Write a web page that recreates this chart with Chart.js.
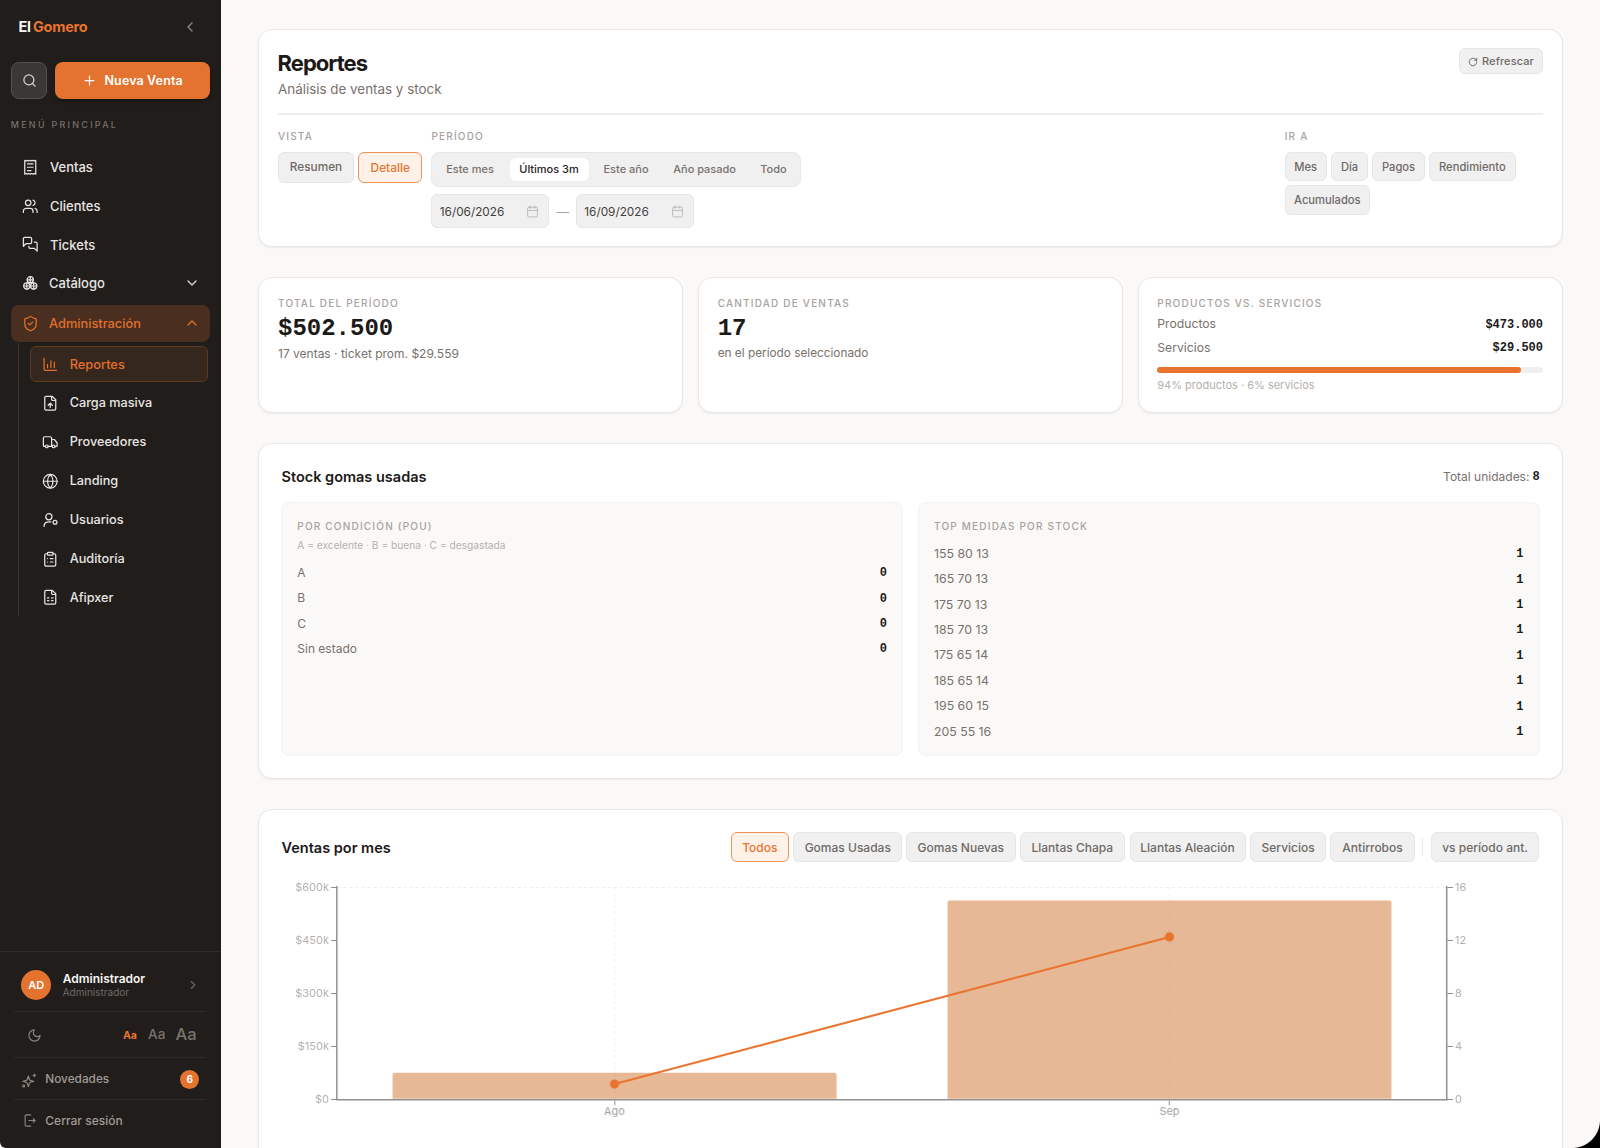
<!DOCTYPE html>
<html lang="es">
<head>
<meta charset="utf-8">
<title>Reportes</title>
<script src="https://cdn.jsdelivr.net/npm/chart.js@4"></script>
<style>
html,body{margin:0;padding:0;width:1600px;height:1148px;overflow:hidden;background:#fff;font-family:Inter,"Noto Sans",sans-serif}
#root{position:absolute;left:0;top:0;width:1600px;height:1148px;overflow:hidden;background:#faf9f7}
.t{position:absolute;white-space:nowrap;line-height:1}
.b{position:absolute;box-sizing:border-box}
.i{position:absolute;fill:none;stroke-linecap:round;stroke-linejoin:round}
#wrap{position:absolute;left:281px;top:876px;width:1258.5px;height:250px}
</style>
</head>
<body>
<div id="root"></div>
<div id="wrap"><canvas id="c"></canvas></div>
<script>
// chart data
const months = ['Ago', 'Sep'];
const salesAmount = [75000, 562500];
const salesCount = [1.15, 12.25];
const amountTicks = { min: 0, max: 600000, step: 150000 };
const countTicks = { min: 0, max: 16, step: 4 };

// page text lists
const conditions = ['A', 'B', 'C', 'Sin estado'];
const conditionValues = [0, 0, 0, 0];
const sizes = ['155 80 13', '165 70 13', '175 70 13', '185 70 13', '175 65 14', '185 65 14', '195 60 15', '205 55 16'];
const sizeValues = [1, 1, 1, 1, 1, 1, 1, 1];

const ORANGE = '#e8742f';
const root = document.getElementById('root');
const MONO = '"Liberation Mono",monospace';

function t(text, x, y, s = {}, align) {
  const e = document.createElement('div');
  e.className = 't';
  e.textContent = text;
  e.style.left = x + 'px';
  e.style.top = y + 'px';
  e.style.transform = align === 'r' ? 'translate(-100%,-50%)' : align === 'c' ? 'translate(-50%,-50%)' : 'translateY(-50%)';
  Object.assign(e.style, s);
  root.appendChild(e);
  return e;
}
function b(x1, y1, x2, y2, s = {}) {
  const e = document.createElement('div');
  e.className = 'b';
  e.style.left = x1 + 'px';
  e.style.top = y1 + 'px';
  e.style.width = (x2 - x1) + 'px';
  e.style.height = (y2 - y1) + 'px';
  Object.assign(e.style, s);
  root.appendChild(e);
  return e;
}
function icon(inner, cx, cy, size, color, w = 2) {
  const n = document.createElementNS('http://www.w3.org/2000/svg', 'svg');
  n.setAttribute('viewBox', '0 0 24 24');
  n.setAttribute('class', 'i');
  n.setAttribute('width', size);
  n.setAttribute('height', size);
  n.setAttribute('stroke', color);
  n.setAttribute('stroke-width', w);
  n.style.left = (cx - size / 2) + 'px';
  n.style.top = (cy - size / 2) + 'px';
  n.innerHTML = inner;
  root.appendChild(n);
}
const P = d => `<path d="${d}"/>`;
const C = (x, y, r) => `<circle cx="${x}" cy="${y}" r="${r}"/>`;
const FILE = 'M15 2H6a2 2 0 0 0-2 2v16a2 2 0 0 0 2 2h12a2 2 0 0 0 2-2V7Z M14 2v4a2 2 0 0 0 2 2h4';
const IC = {
  search: C(11, 11, 8) + P('m21 21-4.3-4.3'),
  left: P('m15 18-6-6 6-6'), down: P('m6 9 6 6 6-6'), up: P('m18 15-6-6-6 6'), right: P('m9 18 6-6-6-6'),
  plus: P('M5 12h14M12 5v14'),
  receipt: P('M4 2v20l2-1 2 1 2-1 2 1 2-1 2 1 2-1 2 1V2l-2 1-2-1-2 1-2-1-2 1-2-1-2 1Z M8 7h8 M8 12h8 M8 17h5'),
  users: P('M16 21v-2a4 4 0 0 0-4-4H6a4 4 0 0 0-4 4v2') + C(9, 7, 4) + P('M22 21v-2a4 4 0 0 0-3-3.87 M16 3.13a4 4 0 0 1 0 7.75'),
  msg: P('M14 9a2 2 0 0 1-2 2H6l-4 4V4a2 2 0 0 1 2-2h8a2 2 0 0 1 2 2z M18 9h2a2 2 0 0 1 2 2v11l-4-4h-6a2 2 0 0 1-2-2v-1'),
  cat: C(12, 7, 4.5) + C(7, 16, 4.5) + C(17, 16, 4.5) + P('M12 2.5v9 M7.5 7h9 M2.5 16h9 M7 11.5v9 M12.5 16h9 M17 11.5v9'),
  shield: P('M20 13c0 5-3.5 7.5-7.66 8.95a1 1 0 0 1-.67-.01C7.5 20.5 4 18 4 13V6a1 1 0 0 1 1-1c2 0 4.5-1.2 6.24-2.72a1.17 1.17 0 0 1 1.52 0C14.51 3.81 17 5 19 5a1 1 0 0 1 1 1z M9 12l2 2 4-4'),
  chart: P('M3 3v16a2 2 0 0 0 2 2h16 M8 17v-5 M13 17V7 M18 17v-8'),
  fileUp: P(FILE + ' M12 18v-6 M9 15l3-3 3 3'),
  truck: P('M14 18V6a2 2 0 0 0-2-2H4a2 2 0 0 0-2 2v11a1 1 0 0 0 1 1h2 M15 18H9 M19 18h2a1 1 0 0 0 1-1v-3.65a1 1 0 0 0-.22-.624l-3.48-4.35A1 1 0 0 0 17.52 8H14') + C(17, 18, 2) + C(7, 18, 2),
  globe: C(12, 12, 10) + P('M12 2a14.5 14.5 0 0 0 0 20 14.5 14.5 0 0 0 0-20 M2 12h20'),
  ucog: C(10, 7, 4.5) + P('M3 21c0-4 3-6.5 7-6.5 h3') + C(19, 15, 2.8),
  clip: '<rect x="8" y="2" width="8" height="4" rx="1"/>' + P('M16 4h2a2 2 0 0 1 2 2v14a2 2 0 0 1-2 2H6a2 2 0 0 1-2-2V6a2 2 0 0 1 2-2h2 M12 11h4 M12 16h4 M8 11h.01 M8 16h.01'),
  sheet: P(FILE + ' M8 13h2 M14 13h2 M8 17h2 M14 17h2'),
  moon: P('M12 3a6 6 0 0 0 9 9 9 9 0 1 1-9-9Z'),
  spark: P('M11 6l1.7 5.3a2 2 0 0 0 1.3 1.3L19 14l-5 1.4a2 2 0 0 0-1.3 1.3L11 22l-1.7-5.3A2 2 0 0 0 8 15.4L3 14l5-1.4a2 2 0 0 0 1.3-1.3Z M20 3v4 M18 5h4') + C(4, 21, 1.5),
  logout: P('M14 3H7a2 2 0 0 0-2 2v14a2 2 0 0 0 2 2h7 M11 12h10 M18 9l3 3-3 3'),
  rotate: P('M21 12a9 9 0 1 1-3-6.7L21 8 M21 3v5h-5'),
  cal: '<rect x="3" y="4" width="18" height="18" rx="2"/>' + P('M16 2v4M8 2v4M3 10h18')
};

/* ---------- sidebar ---------- */
b(0, 0, 221, 1148, { background: '#fff' });
b(0, 0, 221, 1148, { background: '#211d1a', borderBottomLeftRadius: '6px' });
t('El', 18.5, 27.4, { fontSize: '14.5px', fontWeight: 700, color: '#f5f5f4', letterSpacing: '-.02em' });
t('Gomero', 33, 27.4, { fontSize: '14.5px', fontWeight: 700, color: ORANGE, letterSpacing: '-.02em' });
icon(IC.left, 190, 27, 16, '#8a8580');
b(10.7, 62, 47.3, 98.7, { background: '#3a3735', border: '1px solid #55514e', borderRadius: '8px' });
icon(IC.search, 29, 80.3, 15, '#d6d3d1');
b(55, 62, 210, 98.7, { background: '#e47330', borderRadius: '8px', boxShadow: '0 2px 5px rgba(0,0,0,.35)' });
icon(IC.plus, 89.3, 80.7, 15, '#fff');
t('Nueva Venta', 104.5, 81, { fontSize: '12.5px', fontWeight: 600, color: '#fff', letterSpacing: '.01em' });
t('MENÚ PRINCIPAL', 10.7, 123.7, { fontSize: '9px', fontWeight: 500, color: '#75706b', letterSpacing: '.25em' });

const NAV = '#e7e5e4';
const navStyle = { fontSize: '13px', fontWeight: 500, color: NAV };
[['Ventas', 166.9, 'receipt', 50], ['Clientes', 205.8, 'users', 50], ['Tickets', 244.6, 'msg', 50], ['Catálogo', 283.4, 'cat', 49]]
  .forEach(([n, y, ic, x]) => { t(n, x, y, navStyle); icon(IC[ic], 30.5, y, 16.5, NAV, 1.8); });
icon(IC.down, 191.5, 283, 16, '#d6d3d1');
b(10.7, 305, 210, 342, { background: '#4a2f20', borderRadius: '8px' });
t('Administración', 49, 324, { fontSize: '12.8px', fontWeight: 500, color: '#e0702c' });
icon(IC.shield, 30, 323.5, 17, '#e0702c', 1.8);
icon(IC.up, 191.5, 323, 16, '#e0702c');
b(18, 343, 19, 617, { background: '#3a3532' });
b(30, 346, 208, 382, { background: '#36271e', border: '1px solid #5f3a22', borderRadius: '6px' });
t('Reportes', 69.7, 364.6, { fontSize: '12.8px', fontWeight: 500, color: '#e0702c' });
icon(IC.chart, 50, 364, 16.5, '#e0702c', 1.8);
[['Carga masiva', 403.3, 'fileUp'], ['Proveedores', 442.3, 'truck'], ['Landing', 481.3, 'globe'], ['Usuarios', 520, 'ucog'], ['Auditoría', 558.8, 'clip'], ['Afipxer', 597.6, 'sheet']]
  .forEach(([n, y, ic]) => { t(n, 69.7, y, { fontSize: '12.7px', fontWeight: 500, color: NAV }); icon(IC[ic], 50, y, 16.5, NAV, 1.8); });

b(0, 950.5, 221, 951.5, { background: '#2e2a27' });
b(21.3, 970, 51.3, 1000, { background: '#e47330', borderRadius: '50%' });
t('AD', 36.3, 985, { fontSize: '11px', fontWeight: 600, color: '#fff' }, 'c');
t('Administrador', 62.7, 979, { fontSize: '12px', fontWeight: 600, color: '#f5f5f4' });
t('Administrador', 62.7, 992, { fontSize: '10px', color: '#6f6a66' });
icon(IC.right, 192.5, 985, 14, '#6f6a66');
b(14, 1010.5, 206, 1011.5, { background: '#2e2a27' });
icon(IC.moon, 34.7, 1035, 15, '#8a8580', 1.8);
t('Aa', 130, 1035.7, { fontSize: '10.5px', fontWeight: 700, color: ORANGE }, 'c');
t('Aa', 156.7, 1034.7, { fontSize: '13.5px', fontWeight: 500, color: '#78736e' }, 'c');
t('Aa', 186, 1033.7, { fontSize: '16.5px', fontWeight: 500, color: '#78736e' }, 'c');
b(14, 1057, 206, 1058, { background: '#2e2a27' });
icon(IC.spark, 29, 1079.5, 16, '#8a8580', 1.8);
t('Novedades', 45.3, 1080.2, { fontSize: '11.8px', fontWeight: 500, color: '#a09b96' });
b(180.2, 1069.5, 199.2, 1088.5, { background: '#e47330', borderRadius: '50%' });
t('6', 189.7, 1079, { fontSize: '10px', fontWeight: 700, color: '#fff' }, 'c');
b(14, 1099, 206, 1100, { background: '#2e2a27' });
icon(IC.logout, 29, 1120.5, 15, '#8a8580', 1.8);
t('Cerrar sesión', 45.3, 1120.7, { fontSize: '12px', fontWeight: 500, color: '#a09b96' });

/* ---------- shared styles ---------- */
const card = { background: '#fff', border: '1px solid #e9e8e5', borderRadius: '14px', boxShadow: '0 1px 2px rgba(0,0,0,.06)' };
const eyebrow = { fontSize: '10px', fontWeight: 500, color: '#a8a29e', letterSpacing: '.12em' };
const mutedBtn = { background: '#f0f0f1', border: '1px solid #e6e6e7', borderRadius: '6px' };
const onBtn = { background: '#fdf1e8', border: '1.5px solid #f0935b', borderRadius: '6px' };
function btn(label, x1, y1, x2, y2, size, active) {
  b(x1, y1, x2, y2, active ? onBtn : mutedBtn);
  t(label, (x1 + x2) / 2, (y1 + y2) / 2 + 1, { fontSize: size + 'px', fontWeight: 500, color: active ? ORANGE : '#6f6a66' }, 'c');
}

/* ---------- header card ---------- */
b(258, 29.3, 1563, 247, card);
t('Reportes', 277.6, 63.3, { fontSize: '22px', fontWeight: 700, color: '#1c1917', letterSpacing: '-.045em' });
t('Análisis de ventas y stock', 278, 90.3, { fontSize: '13.4px', color: '#78716c' });
b(1459, 48.3, 1543, 73.7, mutedBtn);
icon(IC.rotate, 1473, 61.5, 10, '#6f6a66', 2.4);
t('Refrescar', 1482, 61.4, { fontSize: '11px', fontWeight: 500, color: '#6f6a66', letterSpacing: '.01em' });
b(278, 113, 1543, 114.5, { background: '#efeeec' });
t('VISTA', 278, 136, eyebrow);
t('PERÍODO', 431.4, 136, eyebrow);
t('IR A', 1284.7, 136, eyebrow);
btn('Resumen', 278, 152, 354, 182.7, 11.8, false);
btn('Detalle', 358.3, 152, 422.2, 182.7, 11.9, true);
b(431.4, 152, 801, 186.7, { background: '#f0f0f1', border: '1px solid #e6e6e7', borderRadius: '8px' });
b(509.5, 157.7, 588.7, 181.3, { background: '#fff', borderRadius: '6px' });
[['Este mes', 470, 0], ['Últimos 3m', 549, 1], ['Este año', 626, 0], ['Año pasado', 704.6, 0], ['Todo', 773.5, 0]]
  .forEach(([n, x, on]) => t(n, x, 169.4, { fontSize: '11px', fontWeight: 500, color: on ? '#292524' : '#78716c' }, 'c'));
[[431.4, 549, 439.8, 532.8, '16/06/2026'], [576, 694.3, 584.3, 677.9, '16/09/2026']].forEach(([a, z, tx, ic, d]) => {
  b(a, 194.3, z, 227.7, { background: '#f0f0f1', border: '1px solid #e6e6e7', borderRadius: '6px' });
  t(d, tx, 212.7, { fontSize: '11.8px', color: '#44403c' });
  icon(IC.cal, ic, 211, 13, '#b8b4b0', 1.6);
});
t('—', 562.7, 212, { fontSize: '12.5px', color: '#a8a29e' }, 'c');
btn('Mes', 1284.7, 152, 1326.7, 181.3, 11.2);
btn('Día', 1331, 152, 1368, 181.3, 11.2);
btn('Pagos', 1372.3, 152, 1424.7, 181.3, 11.2);
btn('Rendimiento', 1429, 152, 1515.7, 181.3, 11.2);
btn('Acumulados', 1284.7, 185.3, 1370, 214.7, 11.2);

/* ---------- KPI cards ---------- */
b(258, 277, 682.5, 412.7, card);
b(697.7, 277, 1122.7, 412.7, card);
b(1137.7, 277, 1563, 412.7, card);
t('TOTAL DEL PERÍODO', 278, 303.3, eyebrow);
t('$502.500', 278, 328.5, { fontFamily: MONO, fontSize: '24px', fontWeight: 700, color: '#1c1917' });
t('17 ventas · ticket prom. $29.559', 278, 353.7, { fontSize: '12px', color: '#78716c' });
t('CANTIDAD DE VENTAS', 717.7, 303.3, eyebrow);
t('17', 717.7, 328.5, { fontFamily: MONO, fontSize: '24px', fontWeight: 700, color: '#1c1917' });
t('en el período seleccionado', 717.7, 354.2, { fontSize: '11.8px', color: '#78716c' });
t('PRODUCTOS VS. SERVICIOS', 1157.3, 303.3, eyebrow);
t('Productos', 1157.3, 324, { fontSize: '12.2px', color: '#78716c' });
t('$473.000', 1543, 324.7, { fontFamily: MONO, fontSize: '12px', fontWeight: 700, color: '#1c1917' }, 'r');
t('Servicios', 1157.3, 347.7, { fontSize: '12.2px', color: '#78716c' });
t('$29.500', 1543, 348.4, { fontFamily: MONO, fontSize: '12px', fontWeight: 700, color: '#1c1917' }, 'r');
b(1157.3, 367.3, 1543, 372.7, { background: '#f0f0f1', borderRadius: '3px' });
b(1157.3, 367.3, 1520.7, 372.7, { background: ORANGE, borderRadius: '3px' });
t('94% productos · 6% servicios', 1157.3, 385.3, { fontSize: '11px', color: '#b5b0aa' });

/* ---------- stock card ---------- */
b(258, 442.7, 1563, 779.3, card);
t('Stock gomas usadas', 281.5, 476.7, { fontSize: '14.5px', fontWeight: 600, color: '#1c1917' });
t('Total unidades: ', 1532.8, 476.5, { fontSize: '12px', color: '#78716c', whiteSpace: 'pre' }, 'r');
t('8', 1539.7, 477, { fontFamily: MONO, fontSize: '12px', fontWeight: 700, color: '#1c1917' }, 'r');
const inner = { background: '#faf9f7', border: '1px solid #f4f3f1', borderRadius: '8px' };
b(281, 502.3, 902.7, 756, inner);
b(918.3, 502.3, 1539.7, 756, inner);
t('POR CONDICIÓN (POU)', 297.3, 525.5, eyebrow);
t('A = excelente · B = buena · C = desgastada', 297.3, 544.7, { fontSize: '10.2px', color: '#b5b0aa' });
conditions.forEach((n, k) => {
  const y = 572.7 + k * 25.43;
  t(n, 297.3, y, { fontSize: '12px', color: '#78716c' });
  t(String(conditionValues[k]), 887, y + 0.5, { fontFamily: MONO, fontSize: '12px', fontWeight: 700, color: '#1c1917' }, 'r');
});
t('TOP MEDIDAS POR STOCK', 934, 525.5, eyebrow);
sizes.forEach((n, k) => {
  const y = 553.7 + k * 25.43;
  t(n, 934, y, { fontSize: '12.3px', color: '#78716c' });
  t(String(sizeValues[k]), 1523.5, y + 0.5, { fontFamily: MONO, fontSize: '12px', fontWeight: 700, color: '#1c1917' }, 'r');
});

/* ---------- chart card ---------- */
b(258, 808.7, 1563, 1170, card);
t('Ventas por mes', 281.5, 847.7, { fontSize: '14.5px', fontWeight: 600, color: '#1c1917' });
[['Todos', 730.8, 788.8, 1], ['Gomas Usadas', 793.3, 902.2], ['Gomas Nuevas', 906, 1015.6], ['Llantas Chapa', 1020, 1124.6], ['Llantas Aleación', 1129.5, 1245.5], ['Servicios', 1250.4, 1325.9], ['Antirrobos', 1330.4, 1414.7], ['vs período ant.', 1430.8, 1539.3]]
  .forEach(([n, a, z, on]) => btn(n, a, 831.7, z, 862.3, 12, !!on));
b(1422.3, 838, 1423.3, 856, { background: '#e6e6e7' });

/* ---------- window corner ---------- */
b(1572, 1120, 1600, 1148, { background: 'radial-gradient(circle at 0 0, transparent 27.5px, #000 28.5px)' });

/* ---------- chart ---------- */
const AXIS = '#8f8f8f';
const fixY = w => s => { s.width = w; s.paddingTop = 0; s.paddingBottom = 0; };
new Chart(document.getElementById('c'), {
  data: {
    labels: months,
    datasets: [
      { type: 'line', label: 'Cantidad', data: salesCount, yAxisID: 'yCount', order: 0,
        borderColor: ORANGE, backgroundColor: ORANGE, borderWidth: 2, pointRadius: 3.6, pointHoverRadius: 3.6, tension: 0 },
      { type: 'bar', label: 'Ventas', data: salesAmount, yAxisID: 'yAmount', order: 1,
        backgroundColor: 'rgba(207,113,45,0.5)', barPercentage: 0.8, categoryPercentage: 1,
        borderRadius: { topLeft: 2, topRight: 2 }, borderSkipped: 'bottom' }
    ]
  },
  options: {
    responsive: true, maintainAspectRatio: false, animation: false,
    layout: { padding: { top: 11.2, left: 0, right: 0, bottom: 0 } },
    plugins: { legend: { display: false }, tooltip: { enabled: false } },
    scales: {
      x: {
        offset: true,
        afterFit: s => { s.height = 26.7; s.paddingLeft = 0; s.paddingRight = 0; },
        grid: { offset: false, color: '#f1f1f1', tickColor: AXIS, tickLength: 6 },
        border: { color: AXIS, width: 1.5, dash: [3, 3] },
        ticks: { color: '#a09c98', font: { family: 'Inter', size: 11 }, padding: 0, maxRotation: 0 }
      },
      yAmount: {
        position: 'left', min: amountTicks.min, max: amountTicks.max,
        afterFit: fixY(56),
        grid: { color: c => c.tick && c.tick.value === amountTicks.max ? '#ececec' : 'rgba(0,0,0,0)', tickColor: AXIS, tickLength: 6 },
        border: { color: AXIS, width: 1.5, dash: [3, 3] },
        ticks: { stepSize: amountTicks.step, color: '#b3afab', font: { family: 'Inter', size: 11 }, padding: 2,
          callback: v => v === 0 ? '$0' : '$' + (v / 1000) + 'k' }
      },
      yCount: {
        position: 'right', min: countTicks.min, max: countTicks.max,
        afterFit: fixY(93.5),
        grid: { drawOnChartArea: false, tickColor: AXIS, tickLength: 6 },
        border: { color: AXIS, width: 1.5 },
        ticks: { stepSize: countTicks.step, color: '#b3afab', font: { family: 'Inter', size: 11 }, padding: 2 }
      }
    }
  }
});
</script>
</body>
</html>
